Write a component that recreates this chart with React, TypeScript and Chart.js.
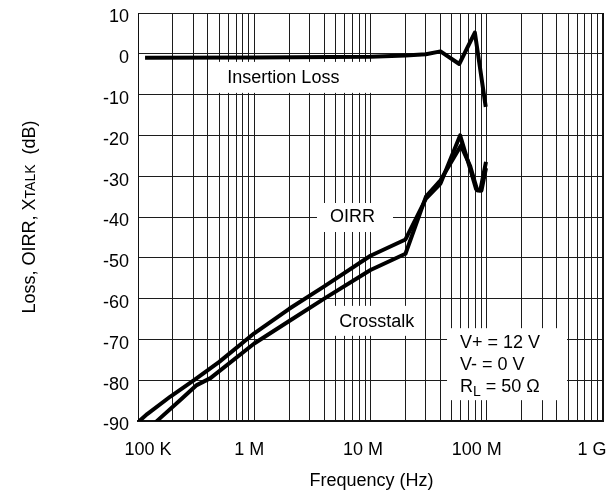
import React, { useEffect, useRef } from 'react';
import { Chart, registerables } from 'chart.js';

Chart.register(...registerables);

// ---- Data ----
const insertionFreq = [1.15e5, 1e6, 1e7, 2e7, 3e7, 4e7, 5.8e7, 7.9e7, 9.8e7];
const insertionDb = [-0.95, -0.9, -0.75, -0.4, -0.1, 0.6, -2.5, 5.2, -13];

const oirrFreq = [1.0e5, 1.2e5, 1.9e5, 3.1e5, 5e5, 1e6, 2e6, 4e6, 1e7, 2e7, 3e7, 4e7, 5.9e7, 7e7, 8.1e7, 8.8e7, 9.85e7];
const oirrDb = [-90.3, -88.3, -84, -79.8, -75.5, -68.5, -62.5, -57, -49.5, -45.5, -35.5, -31.8, -20, -27, -33.2, -33.5, -26.5];

const crosstalkFreq = [1.2e5, 1.55e5, 2.3e5, 3.2e5, 4.2e5, 1e6, 2e6, 4e6, 1e7, 2e7, 3e7, 4e7, 6e7, 7.2e7, 8.3e7, 9e7, 9.85e7];
const crosstalkDb = [-92.2, -89.3, -84.9, -81.2, -79.5, -71, -65.5, -60, -53, -49, -35, -31, -22.5, -27.5, -33.5, -33.5, -28];

// ---- Axes ----
const xDecades = [1e5, 1e6, 1e7, 1e8, 1e9];
const xTickLabels = ['100 K', '1 M', '10 M', '100 M', '1 G'];
const xMinorMultipliers = [2, 3, 4, 5, 6, 7, 8, 9];
const yMin = -90;
const yMax = 10;
const yStep = 10;

const xTitle = 'Frequency (Hz)';
const yTitleParts = [
  { text: 'Loss, OIRR, X', small: false },
  { text: 'TALK', small: true },
  { text: '  (dB)', small: false },
];

const seriesNames = ['Insertion Loss', 'OIRR', 'Crosstalk'];
const conditionsText = ['V+ = 12 V', 'V- = 0 V'];
const rlMain = 'R';
const rlSub = 'L';
const rlRest = ' = 50 Ω';

// ---- Styling / placement ----
const FONT = "'Liberation Sans', Arial, Helvetica, sans-serif";
const FS = 18;
const TEXT = '#000';
const GRID = '#1c1c1c';
const xLabelShift = [10, -5, -7.5, -10, -11];

// anchor (freq, dB) of text centre, box offsets [left, right, top, bottom] in px
const labelBoxes = [
  { text: seriesNames[0], f: 1.78e6, db: -5.9, box: [-71, 90, -16, 15] },
  { text: seriesNames[1], f: 7.0e6, db: -40, box: [-35.5, 40.5, -14, 15] },
  { text: seriesNames[2], f: 1.13e7, db: -65.7, box: [-48.5, 43.5, -16, 14] },
];
const condAnchor = { f: 5.89e7, db: -71, box: [-13, 107, -15.3, 56.7], lineGap: 21.6 };

export default function App() {
  const ref = useRef<HTMLCanvasElement>(null);

  useEffect(() => {
    const canvas = ref.current;
    if (!canvas) return;

    const gridValues: number[] = [];
    xDecades.forEach((d, i) => {
      gridValues.push(d);
      if (i < xDecades.length - 1) xMinorMultipliers.forEach((m) => gridValues.push(d * m));
    });

    const toPoints = (fs: number[], ds: number[]) => fs.map((f, i) => ({ x: f, y: ds[i] }));
    const lineStyle: any = {
      borderColor: '#000',
      backgroundColor: '#000',
      borderWidth: 4,
      pointRadius: 0,
      tension: 0,
      fill: false,
      clip: 0,
      borderJoinStyle: 'round',
      borderCapStyle: 'butt',
    };

    const overlay = {
      id: 'overlay',
      beforeDatasetsDraw(chart: any) {
        const { ctx, scales } = chart;
        const x = scales.x;
        const y = scales.y;
        ctx.save();
        ctx.font = `${FS}px ${FONT}`;
        for (const b of labelBoxes) {
          const cx = x.getPixelForValue(b.f);
          const cy = y.getPixelForValue(b.db);
          ctx.fillStyle = '#fff';
          ctx.fillRect(cx + b.box[0], cy + b.box[2], b.box[1] - b.box[0], b.box[3] - b.box[2]);
          ctx.fillStyle = TEXT;
          ctx.textAlign = 'center';
          ctx.textBaseline = 'middle';
          ctx.fillText(b.text, cx, cy);
        }
        // conditions box
        const ax = x.getPixelForValue(condAnchor.f);
        const ay = y.getPixelForValue(condAnchor.db);
        const bx = condAnchor.box;
        ctx.fillStyle = '#fff';
        ctx.fillRect(ax + bx[0], ay + bx[2], bx[1] - bx[0], bx[3] - bx[2]);
        ctx.fillStyle = TEXT;
        ctx.textAlign = 'left';
        ctx.textBaseline = 'middle';
        conditionsText.forEach((t, i) => ctx.fillText(t, ax, ay + i * condAnchor.lineGap));
        const ry = ay + 2 * condAnchor.lineGap;
        ctx.fillText(rlMain, ax, ry);
        let px = ax + ctx.measureText(rlMain).width;
        ctx.font = `${Math.round(FS * 0.75)}px ${FONT}`;
        ctx.fillText(rlSub, px, ry + 5);
        px += ctx.measureText(rlSub).width;
        ctx.font = `${FS}px ${FONT}`;
        ctx.fillText(rlRest, px, ry);
        ctx.restore();
      },
      afterDraw(chart: any) {
        const { ctx, scales, chartArea } = chart;
        const x = scales.x;
        ctx.save();
        // right frame edge
        ctx.strokeStyle = '#111';
        ctx.lineWidth = 2;
        ctx.beginPath();
        ctx.moveTo(chartArea.right, chartArea.top);
        ctx.lineTo(chartArea.right, chartArea.bottom + 1);
        ctx.stroke();
        // x tick labels
        ctx.fillStyle = TEXT;
        ctx.font = `${FS}px ${FONT}`;
        ctx.textAlign = 'center';
        ctx.textBaseline = 'alphabetic';
        xDecades.forEach((v, i) => {
          ctx.fillText(xTickLabels[i], x.getPixelForValue(v) + xLabelShift[i], chartArea.bottom + 34);
        });
        // x title
        ctx.fillText(xTitle, (chartArea.left + chartArea.right) / 2 + 1, chartArea.bottom + 65);
        // y title (rotated)
        ctx.translate(34.5, (chartArea.top + chartArea.bottom) / 2);
        ctx.rotate(-Math.PI / 2);
        const fonts = yTitleParts.map((p) => `${p.small ? 14 : FS}px ${FONT}`);
        let total = 0;
        yTitleParts.forEach((p, i) => {
          ctx.font = fonts[i];
          total += ctx.measureText(p.text).width;
        });
        let cx = -total / 2;
        ctx.textAlign = 'left';
        yTitleParts.forEach((p, i) => {
          ctx.font = fonts[i];
          ctx.fillText(p.text, cx, 0);
          cx += ctx.measureText(p.text).width;
        });
        ctx.restore();
      },
    };

    const chart = new Chart(canvas, {
      type: 'line',
      data: {
        datasets: [
          { label: seriesNames[0], data: toPoints(insertionFreq, insertionDb), ...lineStyle },
          { label: seriesNames[1], data: toPoints(oirrFreq, oirrDb), ...lineStyle },
          { label: seriesNames[2], data: toPoints(crosstalkFreq, crosstalkDb), ...lineStyle },
        ],
      },
      options: {
        animation: false,
        responsive: false,
        events: [],
        layout: { padding: { top: 13, right: 6, left: 0, bottom: 0 } },
        plugins: { legend: { display: false }, tooltip: { enabled: false }, title: { display: false } },
        scales: {
          x: {
            type: 'logarithmic',
            min: xDecades[0],
            max: xDecades[xDecades.length - 1],
            afterBuildTicks: (s: any) => {
              s.ticks = gridValues.map((v) => ({ value: v }));
            },
            afterFit: (s: any) => {
              s.height = 69;
              s.paddingLeft = 0;
              s.paddingRight = 0;
            },
            ticks: { display: false },
            grid: { color: GRID, lineWidth: 1, drawTicks: false },
            border: { color: '#111', width: 2 },
          },
          y: {
            type: 'linear',
            min: yMin,
            max: yMax,
            afterFit: (s: any) => {
              s.width = 138;
              s.paddingTop = 0;
              s.paddingBottom = 0;
            },
            ticks: {
              stepSize: yStep,
              color: TEXT,
              font: { family: FONT, size: FS },
              padding: 9,
              labelOffset: 4.5,
            },
            grid: { color: GRID, lineWidth: 1, drawTicks: false },
            border: { color: '#111', width: 1 },
          },
        },
      } as any,
      plugins: [overlay],
    });

    return () => chart.destroy();
  }, []);

  return (
    <div style={{ position: 'absolute', left: 0, top: 0, width: 609, height: 490, background: '#fff' }}>
      <canvas ref={ref} width={609} height={490} style={{ display: 'block' }} />
    </div>
  );
}
